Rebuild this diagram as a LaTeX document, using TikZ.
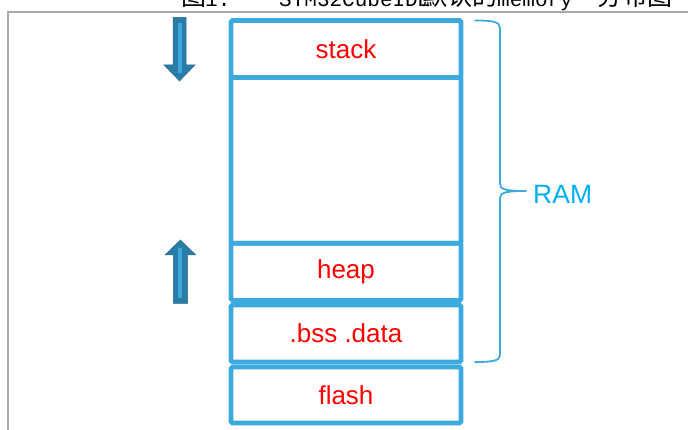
\documentclass[tikz,border=0pt]{standalone}
\usepackage{fontspec}
\setmainfont{Liberation Sans}
\newfontfamily\cjk{Noto Sans CJK SC}
\newfontfamily\monof{Liberation Mono}
\definecolor{boxblue}{HTML}{3CAADC}
\definecolor{arrdark}{HTML}{2A7BA5}
\definecolor{ramblue}{HTML}{00B0F0}
\definecolor{framegray}{HTML}{ABABAB}
\tikzset{
  membox/.style={draw=boxblue, line width=4.6pt, rounded corners=1.5pt, minimum width=230pt, inner sep=0pt,
                 font=\fontsize{26}{30}\selectfont, text=red},
  titlecjk/.style={anchor=base west, inner sep=0pt, font=\cjk\fontsize{25}{28}\selectfont},
  titlemono/.style={anchor=base west, inner sep=0pt, font=\monof\fontsize{21}{24}\selectfont},
  bracepath/.style={draw=boxblue, line width=1.8pt, line cap=round},
  blockarrow/.style={fill=arrdark, draw=arrdark!85!black, line width=0.5pt},
  stripe/.style={fill=boxblue, draw=none}
}
\begin{document}
\begin{tikzpicture}[x=1pt,y=-1pt]
\useasboundingbox (0,0) rectangle (688,430);
% title (cut off at the top)
\node[titlecjk]  (t1) at (181,5.5) {图};
\node[titlemono] (t2) at (205,7) {1.};
\node[titlemono] (t3) at (279,7) {STM32CubeIDE};
\node[titlecjk]  (t4) at (422,5.5) {默认的};
\node[titlemono] (t5) at (497,7) {memory};
\node[titlecjk]  (t6) at (597,5.5) {分布图};
% frame
\draw[framegray, line width=2pt] (8,430) -- (8,12) -- (688,12);
% memory boxes
\node[membox, minimum height=57pt]   (stack) at (346,49)    {stack};
\node[membox, minimum height=165.8pt] (free)  at (346,160.4) {};
\node[membox, minimum height=57.2pt] (heap)  at (346,271.9) {heap};
\node[membox, minimum height=57pt]   (bss)   at (346,333.5) {.bss .data};
\node[membox, minimum height=56pt]   (flash) at (346,395)   {flash};
% brace
\coordinate (bt) at (475,20.5);
\coordinate (bm) at (526,191);
\coordinate (bb) at (475,362);
\draw[bracepath] (bt) .. controls (492,20.5) and (500,21.5) .. (500,28) -- (500,183)
  .. controls (500,189) and (503,191) .. (bm)
  (bm) .. controls (503,191) and (500,193) .. (500,199) -- (500,355)
  .. controls (500,361) and (492,362) .. (bb);
\node[anchor=west, inner sep=0pt, text=ramblue, font=\fontsize{26.5}{30}\selectfont] (ram) at (533,194) {RAM};
% down arrow
\draw[blockarrow] (173,17.5) -- (186,17.5) -- (186,65) -- (195,65) -- (179.5,81) -- (164,65) -- (173,65) -- cycle;
\fill[stripe] (178.3,22.7) rectangle (181.7,73);
% up arrow
\draw[blockarrow] (173.3,303.3) -- (187.7,303.3) -- (187.7,255) -- (195.7,255) -- (180.4,240) -- (165,255) -- (173.3,255) -- cycle;
\fill[stripe] (178.3,248) rectangle (182.3,298);
\end{tikzpicture}
\end{document}
